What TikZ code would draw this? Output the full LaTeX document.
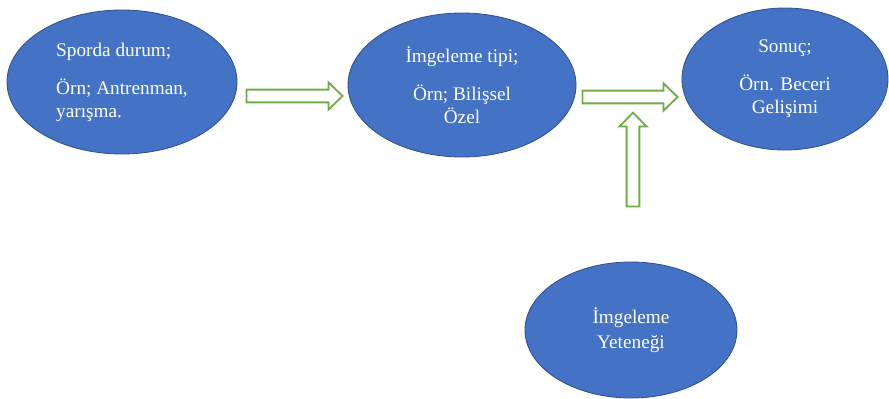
\documentclass[tikz,border=0pt]{standalone}
\usepackage{fontspec}
\setmainfont{Liberation Serif}
\usepackage{tikz}
\usetikzlibrary{calc,shapes.geometric}
\definecolor{ofblue}{HTML}{4472C4}
\definecolor{ofborder}{HTML}{2F528F}
\definecolor{ofgreen}{HTML}{70AD47}
\def\blockarrow[#1](#2)(#3){\coordinate (hb) at ($(#3)!0.35cm!(#2)$);
	\draw[#1] ($(#2)!0.16cm!90:(#3)$) -- ($(hb)!0.16cm!-90:(#2)$) -- ($(hb)!0.34cm!-90:(#2)$) -- (#3) -- ($(hb)!0.34cm!90:(#2)$) -- ($(hb)!0.16cm!90:(#2)$) -- ($(#2)!0.16cm!-90:(#3)$) -- cycle;}
\tikzset{
	blob/.style={ellipse, draw=ofborder, line width=0.6pt, fill=ofblue, inner sep=0pt, text=white, font=\fontsize{13.7}{16.4}\selectfont, align=center},
	hollow/.style={draw=ofgreen, line width=1.3pt, fill=white, line join=miter}
}

\begin{document}
\begin{tikzpicture}
		%%%%% START %%%%%
		\useasboundingbox (0, 0) rectangle (22.225, 9.95);
		
		\node[blob, align=left, minimum width=5.75cm, minimum height=3.6cm] (durum) at (3.05, 7.9) {Sporda durum;\\[10.6pt]Örn; Antrenman,\\yarışma.};
		\node[blob, minimum width=5.7cm, minimum height=3.6cm] (tipi) at (11.55, 7.825) {İmgeleme tipi;\\[10.6pt]Örn; Bilişsel\\Özel};
		\node[blob, minimum width=5.15cm, minimum height=3.55cm] (sonuc) at (19.625, 7.975) {Sonuç;\\[10.6pt]Örn. Beceri\\Gelişimi};
		\node[blob, minimum width=5.3cm, minimum height=3.4cm] (yetenek) at (15.775, 1.7) {İmgeleme\\[1.5pt]Yeteneği};
		
		\coordinate (a1s) at ($(durum.east)+(0.225, -0.35)$);
		\coordinate (a1e) at ($(tipi.west)+(-0.125, -0.275)$);
		\coordinate (a2s) at ($(tipi.east)+(0.15, -0.3)$);
		\coordinate (a2e) at ($(sonuc.west)+(-0.1, -0.45)$);
		\coordinate (a3s) at ($(yetenek.north)+(0.05, 1.375)$);
		\coordinate (a3e) at ($(yetenek.north)+(0.05, 3.725)$);
		
		\blockarrow[hollow](a1s)(a1e);
		\blockarrow[hollow](a2s)(a2e);
		\blockarrow[hollow](a3s)(a3e);
		
		%%%%% END %%%%%
	\end{tikzpicture}
\end{document}
